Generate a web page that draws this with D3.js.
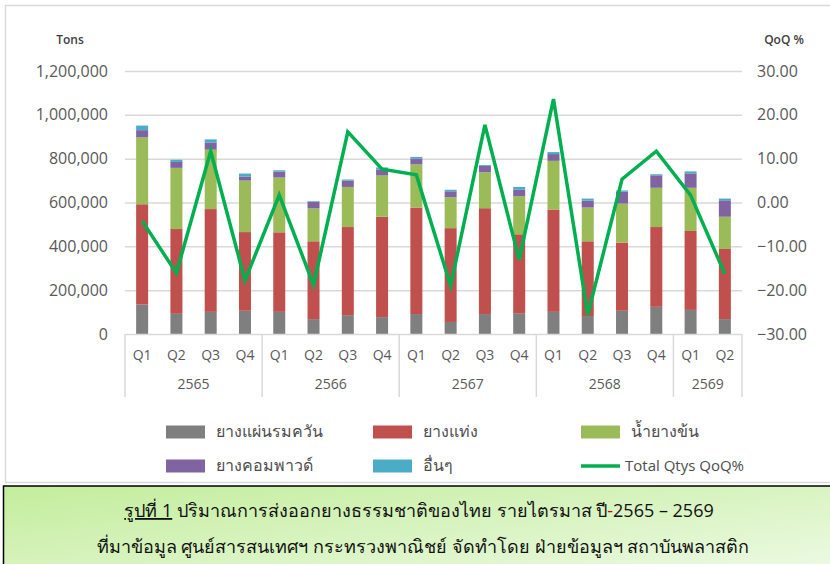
<!DOCTYPE html>
<html lang="th">
  <head>
    <meta charset="utf-8">
    <title>Chart</title>
    <script type="text/javascript" src="https://d3js.org/d3.v7.min.js"></script>
    <style>
      body { margin: 0; background: #fff; }
      text { font-family: "Open Sans", "Noto Sans", "DejaVu Sans", sans-serif; }
    </style>
  </head>
  <body>
    <script type="text/javascript">
    // data (tons per quarter, QoQ % of the total)
    var years = ["2565", "2566", "2567", "2568", "2569"];
    var quartersInYear = [4, 4, 4, 4, 2];
    var seriesNames = ["ยางแผ่นรมควัน", "ยางแท่ง", "น้ำยางข้น", "ยางคอมพาวด์", "อื่นๆ"];
    var smoked   = [135000, 92000, 101000, 106000, 101000, 68000, 86000, 77000, 91000, 55000, 91000, 95000, 101000, 82000, 106000, 124000, 110000, 68000];
    var block    = [457000, 387000, 469000, 359000, 363000, 355000, 402000, 458000, 486000, 428000, 483000, 360000, 467000, 341000, 311000, 364000, 360000, 320000];
    var latex    = [305000, 279000, 271000, 235000, 250000, 150000, 183000, 188000, 197000, 141000, 164000, 174000, 222000, 154000, 178000, 179000, 197000, 147000];
    var compound = [33000, 27000, 33000, 18000, 27000, 30000, 29000, 28000, 27000, 27000, 29000, 29000, 31000, 32000, 54000, 57000, 66000, 75000];
    var others   = [21000, 10000, 14000, 14000, 6000, 3000, 5000, 9000, 7000, 7000, 4000, 13000, 9000, 9000, 6000, 5000, 9000, 8000];
    var qoq      = [-4.2, -16.1, 11.7, -17.8, 1.7, -18.8, 16.1, 7.6, 6.3, -19.0, 17.7, -13.1, 23.6, -25.6, 5.3, 11.7, 1.7, -16.3];
    var leftTicks = [0, 200000, 400000, 600000, 800000, 1000000, 1200000];
    var rightTicks = [-30, -20, -10, 0, 10, 20, 30];
    var lineName = "Total Qtys QoQ%";

    var colors = ["#7f7f7f", "#c0504d", "#9bbb59", "#8064a2", "#4bacc6"];
    var lineColor = "#00b050";
    var axisGray = "#595959";

    var w = 830, h = 564;
    var plotL = 125, plotR = 742, plotT = 71, plotB = 334;

    // build period keys
    var periods = [];
    years.forEach(function(yr, i) {
      for (var q = 1; q <= quartersInYear[i]; q++) periods.push({ key: yr + "Q" + q, q: "Q" + q, year: yr });
    });
    var table = periods.map(function(p, i) {
      return { key: p.key, s0: smoked[i], s1: block[i], s2: latex[i], s3: compound[i], s4: others[i] };
    });
    var stack = d3.stack().keys(["s0", "s1", "s2", "s3", "s4"])(table);

    var x = d3.scaleBand().domain(periods.map(function(p) { return p.key; }))
      .range([plotL, plotR]).paddingInner(0.65).paddingOuter(0.325);
    var y = d3.scaleLinear().domain([0, 1200000]).range([plotB, plotT]);
    var y2 = d3.scaleLinear().domain([-30, 30]).range([plotB, plotT]);

    var svg = d3.select("body").append("svg").attr("width", w).attr("height", h);

    // chart frame
    svg.append("rect").attr("x", 5.5).attr("y", 5.5).attr("width", 840).attr("height", 477)
      .attr("fill", "#fff").attr("stroke", "#d9d9d9").attr("stroke-width", 1.5);

    // gridlines + left axis
    var gl = svg.append("g").attr("transform", "translate(" + plotL + ",0)")
      .call(d3.axisLeft(y).tickValues(leftTicks).tickSize(-(plotR - plotL)).tickPadding(17).tickFormat(d3.format(",")));
    gl.select(".domain").remove();
    gl.selectAll(".tick line").attr("stroke", "#d9d9d9").attr("stroke-width", 1.5)
      .filter(function(d) { return d === 0; }).remove();
    gl.selectAll(".tick text").attr("fill", axisGray).style("font-size", "16px");

    var gr = svg.append("g").attr("transform", "translate(" + plotR + ",0)")
      .call(d3.axisRight(y2).tickValues(rightTicks).tickSize(0).tickPadding(15).tickFormat(d3.format(".2f")));
    gr.select(".domain").remove();
    gr.selectAll(".tick text").attr("fill", axisGray).style("font-size", "16px");

    svg.append("text").attr("x", 70).attr("y", 44).attr("text-anchor", "middle")
      .attr("fill", "#404040").style("font-size", "12px").style("font-weight", "600").text("Tons");
    svg.append("text").attr("x", 784).attr("y", 44).attr("text-anchor", "middle")
      .attr("fill", "#404040").style("font-size", "12px").style("font-weight", "600").text("QoQ %");

    // stacked bars
    svg.append("g").selectAll("g").data(stack).enter().append("g")
      .attr("fill", function(d, i) { return colors[i]; })
      .selectAll("rect").data(function(d) { return d; }).enter().append("rect")
      .attr("x", function(d) { return x(d.data.key); })
      .attr("width", x.bandwidth())
      .attr("y", function(d) { return y(d[1]); })
      .attr("height", function(d) { return y(d[0]) - y(d[1]); });

    // category axis (two levels)
    var ax = svg.append("g");
    ax.append("line").attr("x1", plotL).attr("x2", plotR).attr("y1", plotB + 0.5).attr("y2", plotB + 0.5)
      .attr("stroke", "#d9d9d9").attr("stroke-width", 1.5);
    ax.selectAll("text.q").data(periods).enter().append("text").attr("class", "q")
      .attr("x", function(p) { return x(p.key) + x.bandwidth() / 2; })
      .attr("y", 360).attr("text-anchor", "middle").attr("fill", axisGray).style("font-size", "14px")
      .text(function(p) { return p.q; });
    var groups = years.map(function(yr) {
      var ks = periods.filter(function(p) { return p.year === yr; });
      return { year: yr, first: ks[0].key, last: ks[ks.length - 1].key };
    });
    var edge = function(k, side) {
      var s = x.step(), b = x(k) + x.bandwidth() / 2;
      return side < 0 ? b - s / 2 : b + s / 2;
    };
    var bounds = [edge(groups[0].first, -1)].concat(groups.map(function(g) { return edge(g.last, 1); }));
    ax.selectAll("line.sep").data(bounds).enter().append("line").attr("class", "sep")
      .attr("x1", function(d) { return d; }).attr("x2", function(d) { return d; })
      .attr("y1", plotB).attr("y2", 397).attr("stroke", "#d9d9d9").attr("stroke-width", 1.5);
    ax.selectAll("text.yr").data(groups).enter().append("text").attr("class", "yr")
      .attr("x", function(g) { return (edge(g.first, -1) + edge(g.last, 1)) / 2; })
      .attr("y", 389).attr("text-anchor", "middle").attr("fill", axisGray).style("font-size", "14px")
      .text(function(g) { return g.year; });

    // QoQ line
    var line = d3.line()
      .x(function(d, i) { return x(periods[i].key) + x.bandwidth() / 2; })
      .y(function(d) { return y2(d); });
    svg.append("path").datum(qoq).attr("d", line).attr("fill", "none")
      .attr("stroke", lineColor).attr("stroke-width", 3.5).attr("stroke-linejoin", "miter");

    // legend
    var legendX = [166, 373, 581], legendY = [432, 466];
    var lg = svg.append("g");
    seriesNames.forEach(function(n, i) {
      var cx = legendX[i % 3], cy = legendY[Math.floor(i / 3)];
      lg.append("rect").attr("x", cx).attr("y", cy - 6.5).attr("width", 39).attr("height", 13).attr("fill", colors[i]);
      lg.append("text").attr("x", cx + 50).attr("y", cy + 5).attr("fill", "#4d4d4d").style("font-size", "16px").text(n);
    });
    lg.append("line").attr("x1", legendX[2]).attr("x2", legendX[2] + 39).attr("y1", legendY[1]).attr("y2", legendY[1])
      .attr("stroke", lineColor).attr("stroke-width", 3.5);
    lg.append("text").attr("x", legendX[2] + 44).attr("y", legendY[1] + 5).attr("fill", "#4d4d4d")
      .style("font-size", "15px").text(lineName);

    // caption box
    var defs = svg.append("defs");
    var grad = defs.append("linearGradient").attr("id", "cap").attr("x1", "0").attr("y1", "0").attr("x2", "1").attr("y2", "1");
    grad.append("stop").attr("offset", "0").attr("stop-color", "#c3ed9c");
    grad.append("stop").attr("offset", "1").attr("stop-color", "#f0fbea");
    svg.append("rect").attr("x", 3.5).attr("y", 486).attr("width", 850).attr("height", 100)
      .attr("fill", "url(#cap)").attr("stroke", "#000").attr("stroke-width", 1.5);
    var c1 = svg.append("text").attr("x", 419).attr("y", 517).attr("text-anchor", "middle")
      .attr("fill", "#111").style("font-size", "18px");
    c1.append("tspan").style("text-decoration", "underline").text("รูปที่ 1");
    c1.append("tspan").text(" ปริมาณการส่งออกยางธรรมชาติของไทย รายไตรมาส ปี");
    c1.append("tspan").attr("fill", "#e00000").text("-");
    c1.append("tspan").text("2565 – 2569");
    svg.append("text").attr("x", 423).attr("y", 553).attr("text-anchor", "middle")
      .attr("fill", "#111").style("font-size", "18px")
      .text("ที่มาข้อมูล ศูนย์สารสนเทศฯ กระทรวงพาณิชย์ จัดทำโดย ฝ่ายข้อมูลฯ สถาบันพลาสติก");
    </script>
  </body>
</html>
